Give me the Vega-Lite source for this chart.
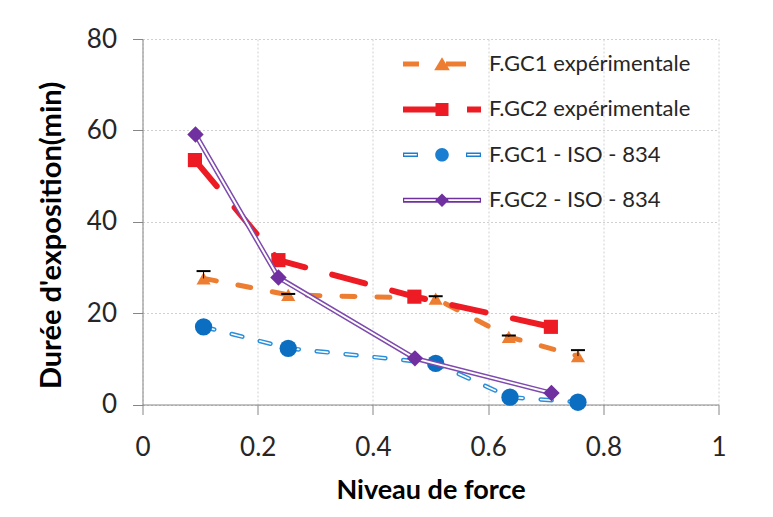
{
  "$schema": "https://vega.github.io/schema/vega-lite/v6.json",
  "width": 576,
  "height": 365.5,
  "autosize": {"type": "none"},
  "padding": {"left": 142.5, "top": 39, "right": 54.5, "bottom": 112.5},
  "background": "white",
  "config": {
    "view": {"stroke": null},
    "font": "Lato",
    "axis": {
      "domainColor": "#868686",
      "tickColor": "#868686",
      "tickSize": 10,
      "gridColor": "#D0D0D0",
      "gridDash": [2, 2],
      "gridWidth": 1,
      "labelFont": "Lato",
      "labelFontSize": 26,
      "labelColor": "#262626",
      "titleFont": "Lato",
      "titleFontWeight": "bold",
      "titleColor": "#000000"
    }
  },
  "data": {
    "values": [
      {"series": "F.GC1 expérimentale", "x": 0.106, "y": 27.6, "yTop": 29.2},
      {"series": "F.GC1 expérimentale", "x": 0.253, "y": 24.0, "yTop": 24.2},
      {"series": "F.GC1 expérimentale", "x": 0.509, "y": 23.2, "yTop": 23.7},
      {"series": "F.GC1 expérimentale", "x": 0.636, "y": 14.8, "yTop": 15.1},
      {"series": "F.GC1 expérimentale", "x": 0.756, "y": 10.6, "yTop": 11.9},
      {"series": "F.GC2 expérimentale", "x": 0.091, "y": 53.5},
      {"series": "F.GC2 expérimentale", "x": 0.236, "y": 31.6},
      {"series": "F.GC2 expérimentale", "x": 0.472, "y": 23.6},
      {"series": "F.GC2 expérimentale", "x": 0.709, "y": 17.0},
      {"series": "F.GC1 - ISO - 834", "x": 0.106, "y": 17.0},
      {"series": "F.GC1 - ISO - 834", "x": 0.253, "y": 12.3},
      {"series": "F.GC1 - ISO - 834", "x": 0.509, "y": 9.0},
      {"series": "F.GC1 - ISO - 834", "x": 0.638, "y": 1.6},
      {"series": "F.GC1 - ISO - 834", "x": 0.756, "y": 0.5},
      {"series": "F.GC2 - ISO - 834", "x": 0.092, "y": 59.1},
      {"series": "F.GC2 - ISO - 834", "x": 0.236, "y": 27.8},
      {"series": "F.GC2 - ISO - 834", "x": 0.473, "y": 10.1},
      {"series": "F.GC2 - ISO - 834", "x": 0.710, "y": 2.5}
    ]
  },
  "encoding": {
    "x": {
      "field": "x", "type": "quantitative",
      "scale": {"domain": [0, 1], "nice": false, "zero": false},
      "axis": {"values": [0, 0.2, 0.4, 0.6, 0.8, 1], "labelPadding": 20, "titlePadding": 17, "titleFontSize": 27, "title": "Niveau de force", "labelFlush": false, "format": "~g"}
    },
    "y": {
      "field": "y", "type": "quantitative",
      "scale": {"domain": [0, 80], "nice": false},
      "axis": {"values": [0, 20, 40, 60, 80], "labelPadding": 16, "titlePadding": 20, "titleFontSize": 29, "titleY": 196, "title": "Durée d'exposition(min)"}
    }
  },
  "layer": [
    {
      "transform": [{"filter": "datum.series === 'F.GC1 expérimentale'"}],
      "mark": {"type": "line", "color": "#ED7D31", "strokeWidth": 5, "strokeDash": [13, 22], "strokeCap": "round"},
      "encoding": {}
    },
    {
      "transform": [{"filter": "datum.series === 'F.GC1 expérimentale'"}],
      "mark": {"type": "point", "shape": "triangle-up", "filled": true, "opacity": 1, "color": "#ED7D31", "size": 200}
    },
    {
      "transform": [{"filter": "datum.series === 'F.GC2 expérimentale'"}],
      "mark": {"type": "line", "color": "#ED1C24", "strokeWidth": 6, "strokeDash": [34, 28], "strokeCap": "round"},
      "encoding": {}
    },
    {
      "transform": [{"filter": "datum.series === 'F.GC2 expérimentale'"}],
      "mark": {"type": "point", "shape": "square", "filled": true, "opacity": 1, "color": "#ED1C24", "size": 200}
    },
    {
      "transform": [{"filter": "datum.series === 'F.GC1 - ISO - 834'"}],
      "mark": {"type": "line", "color": "#2A8FDA", "strokeWidth": 4.5, "strokeDash": [11, 18], "strokeCap": "round"},
      "encoding": {}
    },
    {
      "transform": [{"filter": "datum.series === 'F.GC1 - ISO - 834'"}],
      "mark": {"type": "line", "color": "#FFFFFF", "strokeWidth": 1.6, "strokeDash": [11, 18], "strokeCap": "round"},
      "encoding": {}
    },
    {
      "transform": [{"filter": "datum.series === 'F.GC1 - ISO - 834'"}],
      "mark": {"type": "point", "shape": "circle", "filled": true, "opacity": 1, "color": "#0B6EC1", "size": 300}
    },
    {
      "transform": [{"filter": "datum.series === 'F.GC2 - ISO - 834'"}],
      "mark": {"type": "line", "color": "#7E4AAE", "strokeWidth": 5},
      "encoding": {}
    },
    {
      "transform": [{"filter": "datum.series === 'F.GC2 - ISO - 834'"}],
      "mark": {"type": "line", "color": "#FFFFFF", "strokeWidth": 2},
      "encoding": {}
    },
    {
      "transform": [{"filter": "datum.series === 'F.GC2 - ISO - 834'"}],
      "mark": {"type": "point", "shape": "diamond", "filled": true, "opacity": 1, "color": "#7030A0", "size": 270}
    },
    {
      "transform": [{"filter": "datum.series === 'F.GC1 expérimentale'"}],
      "mark": {"type": "rule", "color": "#000000", "strokeWidth": 1},
      "encoding": {"y2": {"field": "yTop"}}
    },
    {
      "transform": [{"filter": "datum.series === 'F.GC1 expérimentale'"}],
      "mark": {"type": "tick", "orient": "horizontal", "color": "#000000", "thickness": 2, "size": 14, "opacity": 1},
      "encoding": {"y": {"field": "yTop", "type": "quantitative"}}
    },
    {
      "transform": [{"filter": "datum.x > 5"}],
      "mark": {"type": "point", "filled": true, "opacity": 1, "size": 400},
      "encoding": {
        "color": {
          "field": "series", "type": "nominal",
          "scale": {
            "domain": ["F.GC1 expérimentale", "F.GC2 expérimentale", "F.GC1 - ISO - 834", "F.GC2 - ISO - 834"],
            "range": ["#ED7D31", "#ED1C24", "#1A7FD0", "#7030A0"]
          },
          "legend": {
            "title": null,
            "orient": "none",
            "legendX": 288.5,
            "legendY": 14,
            "padding": 0,
            "symbolSize": 400,
            "symbolStrokeWidth": 0,
            "symbolOpacity": 1,
            "labelFont": "Lato",
            "labelFontSize": 22,
            "labelColor": "#262626",
            "labelOffset": 36,
            "rowPadding": 23.4,
            "labelLimit": 400
          }
        },
        "shape": {
          "field": "series", "type": "nominal",
          "scale": {
            "domain": ["F.GC1 expérimentale", "F.GC2 expérimentale", "F.GC1 - ISO - 834", "F.GC2 - ISO - 834"],
            "range": [
              "M-3.9,-0.25L-2.3,-0.25L-2.3,0.25L-3.9,0.25ZM0,-0.68L0.78,0.62L-0.78,0.62ZM0.4,-0.25L2.4,-0.25L2.4,0.25L0.4,0.25Z",
              "M-3.9,-0.3L0,-0.3L0,0.3L-3.9,0.3ZM-0.65,-0.65L0.65,-0.65L0.65,0.65L-0.65,0.65ZM2.5,-0.3L3.9,-0.3L3.9,0.3L2.5,0.3Z",
              "M-3.9,-0.22L-2.4,-0.22L-2.4,0.22L-3.9,0.22ZM-3.78,-0.08L-3.78,0.08L-2.52,0.08L-2.52,-0.08ZM-0.68,0A0.68,0.68 0 1,1 0.68,0A0.68,0.68 0 1,1 -0.68,0ZM2.4,-0.22L3.9,-0.22L3.9,0.22L2.4,0.22ZM2.52,-0.08L2.52,0.08L3.78,0.08L3.78,-0.08Z",
              "M-3.9,-0.25L-0.3,-0.25L-0.3,0.25L-3.9,0.25ZM-3.78,-0.09L-3.78,0.09L-0.5,0.09L-0.5,-0.09ZM0.3,-0.25L3.9,-0.25L3.9,0.25L0.3,0.25ZM0.5,-0.09L0.5,0.09L3.78,0.09L3.78,-0.09ZM0,-0.68L0.68,0L0,0.68L-0.68,0Z"
            ]
          }
        }
      }
    }
  ]
}
